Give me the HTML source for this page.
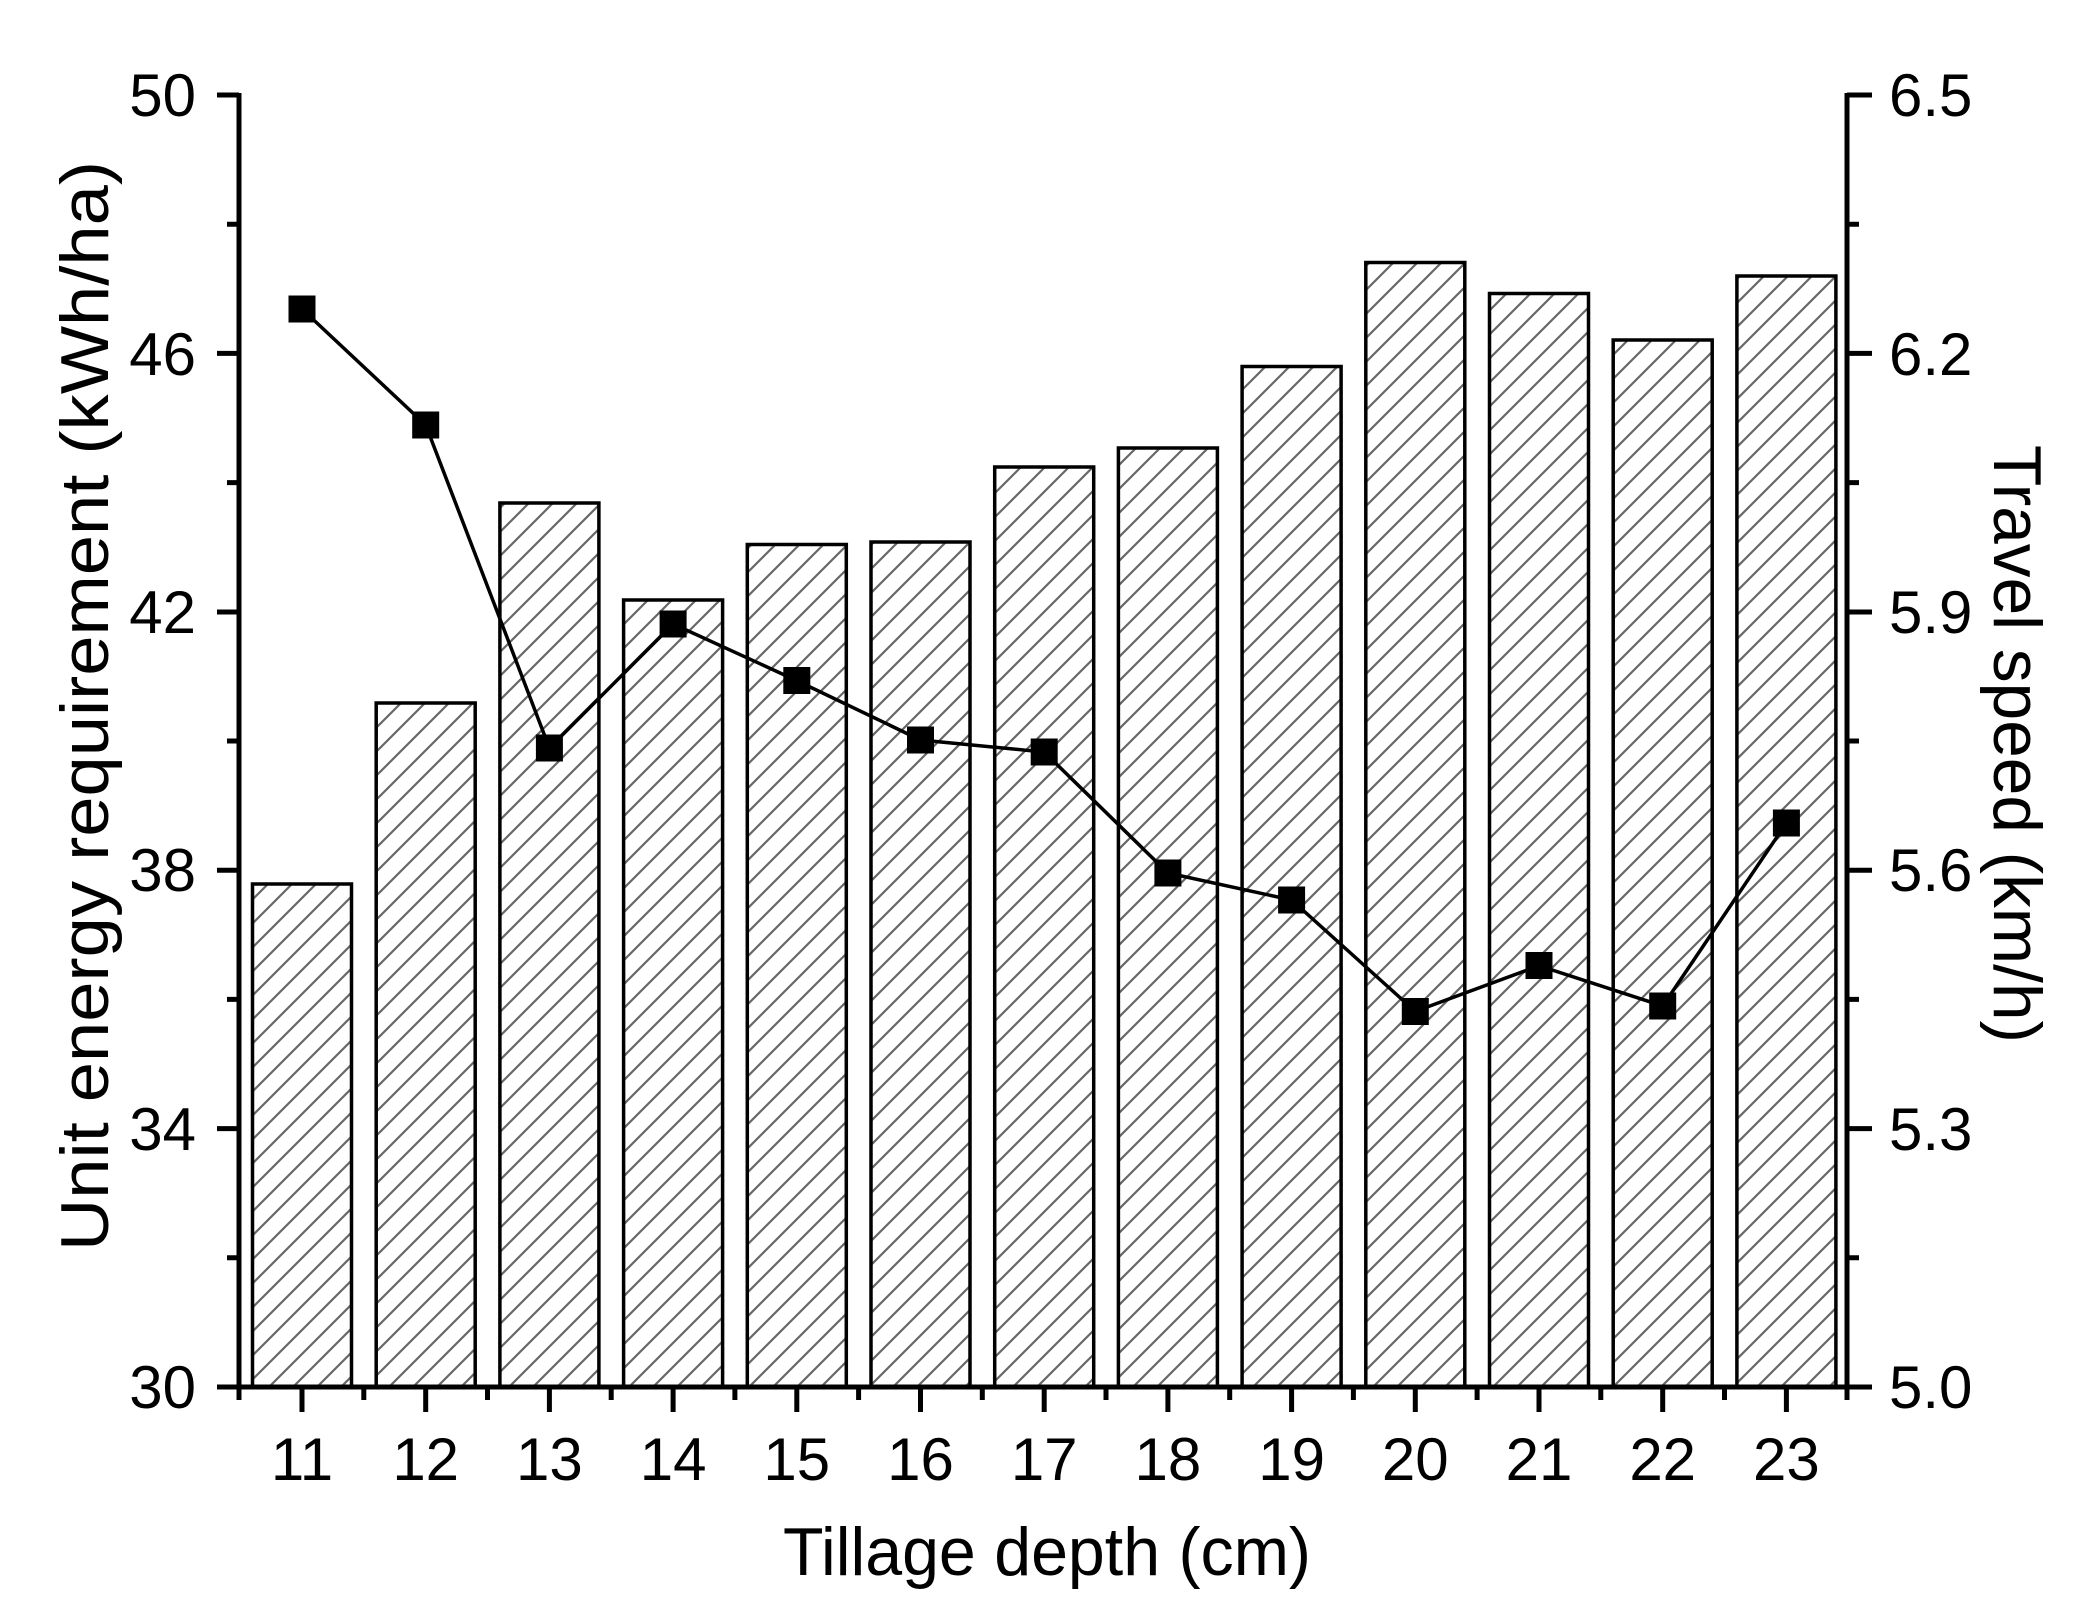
<!DOCTYPE html>
<html><head><meta charset="utf-8"><style>html,body{margin:0;padding:0;background:#fff}svg{display:block}</style></head>
<body>
<svg width="2098" height="1612" viewBox="0 0 2098 1612" xmlns="http://www.w3.org/2000/svg" font-family="Liberation Sans, Arial, sans-serif">
<defs>
<pattern id="h" patternUnits="userSpaceOnUse" width="24" height="24">
<path d="M0,24 L24,0 M-6,6 L6,-6 M18,30 L30,18" stroke="#666" stroke-width="2.2"/>
</pattern>
</defs>
<rect width="2098" height="1612" fill="#fff"/>
<g stroke="#000" stroke-width="3.5" fill="url(#h)">
<rect x="252.5" y="884" width="99" height="503"/>
<rect x="376.2" y="703" width="99" height="684"/>
<rect x="499.9" y="503" width="99" height="884"/>
<rect x="623.6" y="600" width="99" height="787"/>
<rect x="747.3" y="544.5" width="99" height="842.5"/>
<rect x="871" y="542" width="99" height="845"/>
<rect x="994.7" y="467" width="99" height="920"/>
<rect x="1118.4" y="448" width="99" height="939"/>
<rect x="1242.1" y="366.5" width="99" height="1020.5"/>
<rect x="1365.8" y="262.5" width="99" height="1124.5"/>
<rect x="1489.5" y="293.5" width="99" height="1093.5"/>
<rect x="1613.2" y="340" width="99" height="1047"/>
<rect x="1736.9" y="276" width="99" height="1111"/>
</g>
<polyline fill="none" stroke="#000" stroke-width="3.5" points="302,309 425.7,425 549.4,748 673.1,624 796.8,680.6 920.5,740 1044.2,752 1167.9,873 1291.6,900 1415.3,1011.4 1539,965.7 1662.7,1006 1786.4,823"/>
<g fill="#000">
<rect x="288.5" y="295.5" width="27" height="27"/>
<rect x="412.2" y="411.5" width="27" height="27"/>
<rect x="535.9" y="734.5" width="27" height="27"/>
<rect x="659.6" y="610.5" width="27" height="27"/>
<rect x="783.3" y="667" width="27" height="27"/>
<rect x="907" y="726.5" width="27" height="27"/>
<rect x="1030.7" y="738.5" width="27" height="27"/>
<rect x="1154.4" y="859.5" width="27" height="27"/>
<rect x="1278.1" y="886.5" width="27" height="27"/>
<rect x="1401.8" y="998" width="27" height="27"/>
<rect x="1525.5" y="952" width="27" height="27"/>
<rect x="1649.2" y="992.5" width="27" height="27"/>
<rect x="1772.9" y="809.5" width="27" height="27"/>
</g>
<g stroke="#000" stroke-width="5" fill="none">
<line x1="239" y1="93" x2="239" y2="1389"/>
<line x1="1847" y1="93" x2="1847" y2="1389"/>
<line x1="217" y1="1387" x2="1872" y2="1387"/>
<path d="M217,95H239 M217,353.4H239 M217,612H239 M217,870.2H239 M217,1128.6H239
M227,224.2H239 M227,482.6H239 M227,741H239 M227,999.4H239 M227,1257.8H239
M1847,95H1872 M1847,353.4H1872 M1847,612H1872 M1847,870.2H1872 M1847,1128.6H1872
M1847,224.2H1859 M1847,482.6H1859 M1847,741H1859 M1847,999.4H1859 M1847,1257.8H1859
M302,1387V1412 M425.7,1387V1412 M549.4,1387V1412 M673.1,1387V1412 M796.8,1387V1412 M920.5,1387V1412 M1044.2,1387V1412 M1167.9,1387V1412 M1291.6,1387V1412 M1415.3,1387V1412 M1539,1387V1412 M1662.7,1387V1412 M1786.4,1387V1412
M239,1387V1400 M363.8,1387V1400 M487.5,1387V1400 M611.2,1387V1400 M734.9,1387V1400 M858.6,1387V1400 M982.3,1387V1400 M1106,1387V1400 M1229.7,1387V1400 M1353.4,1387V1400 M1477.1,1387V1400 M1600.8,1387V1400 M1724.5,1387V1400 M1847,1387V1400"/>
</g>
<g font-size="60" fill="#000" text-anchor="end">
<text x="196" y="116">50</text>
<text x="196" y="375">46</text>
<text x="196" y="633">42</text>
<text x="196" y="891">38</text>
<text x="196" y="1150">34</text>
<text x="196" y="1408">30</text>
</g>
<g font-size="60" fill="#000">
<text x="1889" y="116">6.5</text>
<text x="1889" y="375">6.2</text>
<text x="1889" y="633">5.9</text>
<text x="1889" y="891">5.6</text>
<text x="1889" y="1150">5.3</text>
<text x="1889" y="1408">5.0</text>
</g>
<g font-size="60" fill="#000" text-anchor="middle">
<text x="302" y="1480">11</text>
<text x="425.7" y="1480">12</text>
<text x="549.4" y="1480">13</text>
<text x="673.1" y="1480">14</text>
<text x="796.8" y="1480">15</text>
<text x="920.5" y="1480">16</text>
<text x="1044.2" y="1480">17</text>
<text x="1167.9" y="1480">18</text>
<text x="1291.6" y="1480">19</text>
<text x="1415.3" y="1480">20</text>
<text x="1539" y="1480">21</text>
<text x="1662.7" y="1480">22</text>
<text x="1786.4" y="1480">23</text>
</g>
<text x="783" y="1575" font-size="68" textLength="528" lengthAdjust="spacingAndGlyphs" fill="#000">Tillage depth (cm)</text>
<text transform="translate(108,1251) rotate(-90)" font-size="68" textLength="1090" lengthAdjust="spacingAndGlyphs" fill="#000">Unit energy requirement (kWh/ha)</text>
<text transform="translate(1994,445) rotate(90)" font-size="68" textLength="598" lengthAdjust="spacingAndGlyphs" fill="#000">Travel speed (km/h)</text>
</svg>
</body></html>
